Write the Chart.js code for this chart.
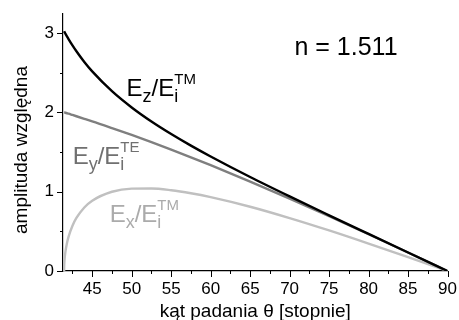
<!DOCTYPE html>
<html>
<head>
<meta charset="utf-8">
<script src="https://cdn.jsdelivr.net/npm/chart.js@4/dist/chart.umd.min.js"></script>
<style>
  html, body { margin: 0; padding: 0; background: #fff; }
  #wrap { width: 459px; height: 320px; }
</style>
</head>
<body>
<div id="wrap"><canvas id="myChart"></canvas></div>
<script>
// angle of incidence [deg], starts at the critical angle
const thetas = [41.44, 41.45, 41.47, 41.5, 41.6, 41.8, 42, 42.5, 43, 44, 45, 47.5, 50, 52.5, 55, 57.5, 60, 65, 70, 75, 80, 85, 90];
const ezValues = [3.022, 3.020, 3.017, 3.011, 2.993, 2.958, 2.924, 2.844, 2.770, 2.635, 2.516, 2.267, 2.062, 1.885, 1.727, 1.581, 1.444, 1.185, 0.940, 0.702, 0.467, 0.233, 0];
const eyValues = [2.000, 2.000, 1.999, 1.998, 1.995, 1.989, 1.983, 1.967, 1.951, 1.919, 1.887, 1.802, 1.715, 1.624, 1.530, 1.433, 1.334, 1.128, 0.913, 0.691, 0.463, 0.233, 0];
const exValues = [0, 0.060, 0.104, 0.149, 0.239, 0.351, 0.431, 0.571, 0.669, 0.801, 0.886, 0.999, 1.038, 1.040, 1.018, 0.980, 0.931, 0.810, 0.667, 0.511, 0.345, 0.174, 0];

const xTickValues = [42.5, 45, 47.5, 50, 52.5, 55, 57.5, 60, 62.5, 65, 67.5, 70, 72.5, 75, 77.5, 80, 82.5, 85, 87.5, 90];
const yTickValues = [0, 0.5, 1, 1.5, 2, 2.5, 3];

const FONT = '"Liberation Sans", Arial, Helvetica, sans-serif';

// text labels placed in data coordinates
const curveLabels = [
    { x: 49.35, y: 2.204, color: '#000000', parts: [['E', 'n'], ['z', 'sub'], ['/E', 'n'], ['i', 'sub'], ['TM', 'sup']] },
    { x: 42.52, y: 1.345, color: '#707070', parts: [['E', 'n'], ['y', 'sub'], ['/E', 'n'], ['i', 'sub'], ['TE', 'sup']] },
    { x: 47.21, y: 0.614, color: '#ababab', parts: [['E', 'n'], ['x', 'sub'], ['/E', 'n'], ['i', 'sub'], ['TM', 'sup']] },
    { x: 70.61, y: 2.727, color: '#000000', parts: [['n = 1.511', 'big']] },
];

const toPoints = (vals) => thetas.map((t, i) => ({ x: t, y: vals[i] }));

const drawRich = (ctx, x0, y0, parts, color) => {
    let x = x0;
    let subStart = null;
    ctx.fillStyle = color;
    ctx.textBaseline = 'alphabetic';
    ctx.textAlign = 'left';
    parts.forEach(([txt, kind]) => {
        if (kind === 'n' || kind === 'big') {
            ctx.font = (kind === 'big' ? '25px ' : '24px ') + FONT;
            ctx.fillText(txt, x, y0);
            x += ctx.measureText(txt).width;
            subStart = null;
        } else if (kind === 'sub') {
            ctx.font = '18px ' + FONT;
            subStart = x;
            ctx.fillText(txt, x, y0 + 6);
            x += ctx.measureText(txt).width;
        } else {
            ctx.font = '15px ' + FONT;
            const start = subStart !== null ? subStart : x;
            ctx.fillText(txt, start, y0 - 12);
            x = Math.max(x, start + ctx.measureText(txt).width);
        }
    });
};

const extrasPlugin = {
    id: 'extras',
    afterDraw(chart) {
        const ctx = chart.ctx;
        const xs = chart.scales.x;
        const ys = chart.scales.y;
        const area = chart.chartArea;
        ctx.save();
        // tick marks, major longer than minor
        ctx.strokeStyle = '#000';
        ctx.lineWidth = 1;
        xs.ticks.forEach((t) => {
            const px = Math.round(xs.getPixelForValue(t.value)) + 0.5;
            const len = t.value % 5 === 0 ? 6 : 3;
            ctx.beginPath();
            ctx.moveTo(px, area.bottom);
            ctx.lineTo(px, area.bottom + len);
            ctx.stroke();
        });
        ys.ticks.forEach((t) => {
            const py = Math.round(ys.getPixelForValue(t.value)) + 0.5;
            const len = t.value % 1 === 0 ? 6 : 3;
            ctx.beginPath();
            ctx.moveTo(area.left, py);
            ctx.lineTo(area.left - len, py);
            ctx.stroke();
        });
        // y axis title
        ctx.save();
        ctx.translate(27, 150);
        ctx.rotate(-Math.PI / 2);
        ctx.font = '19px ' + FONT;
        ctx.fillStyle = '#000';
        ctx.textAlign = 'center';
        ctx.textBaseline = 'alphabetic';
        ctx.fillText('amplituda względna', 0, 0);
        ctx.restore();
        // curve labels
        curveLabels.forEach((lab) => {
            drawRich(ctx, xs.getPixelForValue(lab.x), ys.getPixelForValue(lab.y), lab.parts, lab.color);
        });
        ctx.restore();
    }
};

const makeSet = (label, vals, color, width) => ({
    label: label,
    data: toPoints(vals),
    borderColor: color,
    borderWidth: width,
    pointRadius: 0,
    showLine: true,
    fill: false,
    cubicInterpolationMode: 'monotone',
});

const ctx = document.getElementById('myChart');
const myChart = new Chart(ctx, {
    type: 'scatter',
    data: {
        datasets: [
            makeSet('Ez/Ei TM', ezValues, '#000000', 2.4),
            makeSet('Ey/Ei TE', eyValues, '#7f7f7f', 2.4),
            makeSet('Ex/Ei TM', exValues, '#c0c0c0', 2.4),
        ]
    },
    options: {
        responsive: true,
        maintainAspectRatio: false,
        animation: false,
        layout: { padding: { top: 10, right: 9, left: 0, bottom: 0 } },
        plugins: {
            legend: { display: false },
            tooltip: { enabled: false },
        },
        scales: {
            x: {
                type: 'linear',
                min: 41.3,
                max: 90,
                afterBuildTicks: (scale) => {
                    scale.ticks = xTickValues.map((v) => ({ value: v }));
                },
                afterFit: (scale) => { scale.height = 49; },
                ticks: {
                    autoSkip: false,
                    maxRotation: 0,
                    padding: 2,
                    color: '#000',
                    font: { family: FONT, size: 17 },
                    callback: (v) => (v % 5 === 0 ? String(v) : ''),
                },
                grid: { display: true, drawOnChartArea: false, drawTicks: true, tickLength: 6, tickColor: 'rgba(0,0,0,0)' },
                border: { display: true, color: '#000', width: 1.2 },
                title: {
                    display: true,
                    text: 'kąt padania θ [stopnie]',
                    color: '#000',
                    font: { family: FONT, size: 19 },
                    padding: { top: 0, bottom: -3 },
                },
            },
            y: {
                type: 'linear',
                min: 0,
                max: 3.25,
                afterBuildTicks: (scale) => {
                    scale.ticks = yTickValues.map((v) => ({ value: v }));
                },
                afterFit: (scale) => { scale.width = 63; },
                ticks: {
                    autoSkip: false,
                    padding: 3,
                    color: '#000',
                    font: { family: FONT, size: 17 },
                    callback: (v) => (v % 1 === 0 ? String(v) : ''),
                },
                grid: { display: true, drawOnChartArea: false, drawTicks: true, tickLength: 6, tickColor: 'rgba(0,0,0,0)' },
                border: { display: true, color: '#000', width: 1.2 },
            },
        },
    },
    plugins: [extrasPlugin],
});
</script>
</body>
</html>
